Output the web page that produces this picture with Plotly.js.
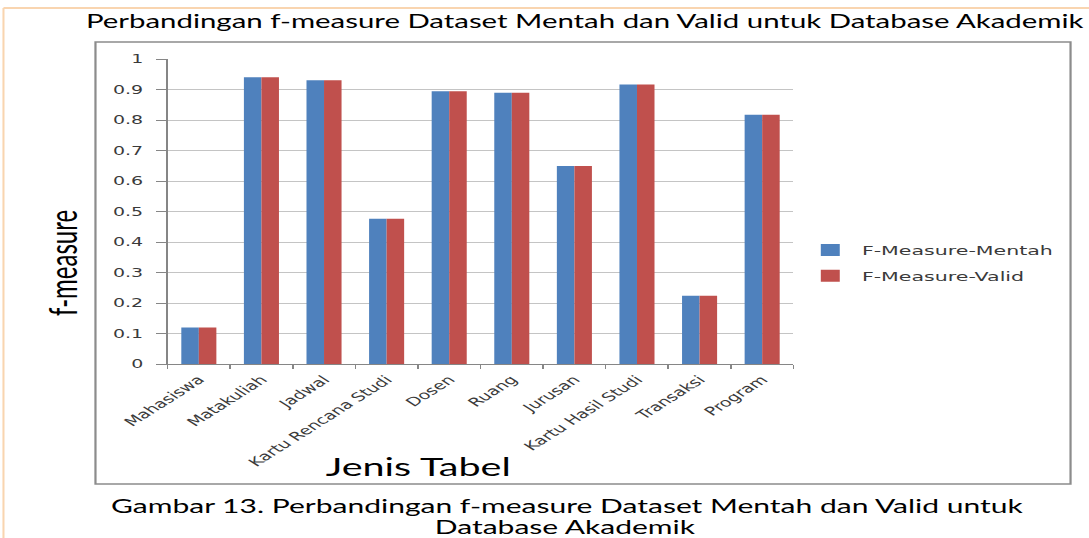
<!DOCTYPE html>
<html>
<head>
<meta charset="utf-8">
<script src="https://cdn.plot.ly/plotly-3.0.1.min.js"></script>
<style>
html,body{margin:0;padding:0;background:#fff;overflow:hidden;width:1089px;height:538px;}
#chart{width:689px;height:538px;transform:scaleX(1.5806);transform-origin:0 0;}
</style>
</head>
<body>
<div id="chart"></div>
<script>
const categories = ["Mahasiswa","Matakuliah","Jadwal","Kartu Rencana Studi","Dosen","Ruang","Jurusan","Kartu Hasil Studi","Transaksi","Program"];
const mentah = [0.12, 0.94, 0.93, 0.476, 0.894, 0.889, 0.649, 0.916, 0.224, 0.817];
const valid  = [0.12, 0.94, 0.93, 0.476, 0.894, 0.889, 0.649, 0.916, 0.224, 0.817];
const seriesNames = ["F-Measure-Mentah", "F-Measure-Valid"];
const yTicks = [0,0.1,0.2,0.3,0.4,0.5,0.6,0.7,0.8,0.9,1];
const yTickText = ["0","0.1","0.2","0.3","0.4","0.5","0.6","0.7","0.8","0.9","1"];
const chartTitle = "Perbandingan f-measure Dataset Mentah dan Valid untuk Database Akademik";
const xTitle = "Jenis Tabel";
const yTitle = "f-measure";
const caption1 = "Gambar 13. Perbandingan f-measure Dataset Mentah dan Valid untuk";
const caption2 = "Database Akademik";

// The whole chart is drawn in an unstretched space and then stretched horizontally (like the reference image).
const W = 689, H = 538;
const L = 105.7, R = 501.7, T = 59, B = 364;   // plot area in px (unstretched)
const pw = R - L, ph = B - T;
const px = x => (x - L) / pw;        // px -> paper x
const py = y => (B - y) / ph;        // px -> paper y

const tickFont = {family: "'DejaVu Sans', Verdana, sans-serif", size: 12, color: "#3a3a3a"};
const calibri = "Lato, 'Open Sans', sans-serif";

const traces = [
  {type: "bar", name: seriesNames[0], x: categories, y: mentah, marker: {color: "#4F81BD"}, legendgroup: "a"},
  {type: "bar", name: seriesNames[1], x: categories, y: valid, marker: {color: "#C0504D"}, legendgroup: "b"}
];

const layout = {
  width: W, height: H,
  paper_bgcolor: "#ffffff", plot_bgcolor: "#ffffff",
  margin: {l: L, r: W - R, t: T, b: H - B, autoexpand: false},
  barmode: "group", bargap: 0.44, bargroupgap: 0,
  showlegend: true,
  legend: {x: px(505), y: py(263), xanchor: "left", yanchor: "middle", traceorder: "grouped", tracegroupgap: 6,
           font: {family: "'DejaVu Sans', Verdana, sans-serif", size: 13, color: "#3a3a3a"}, itemwidth: 30, bgcolor: "rgba(0,0,0,0)"},
  title: {text: chartTitle, x: 54.4 / W, xanchor: "left", xref: "container", y: 1 - 21 / H, yanchor: "middle", yref: "container",
          font: {family: calibri, size: 18.6, color: "#000"}},
  xaxis: {
    type: "category", tickangle: -45, tickfont: tickFont,
    showline: true, linecolor: "#868686", linewidth: 1,
    ticks: "outside", tickson: "boundaries", ticklen: 4, tickcolor: "#868686",
    ticklabelstandoff: 3,
    showgrid: false, automargin: false
  },
  yaxis: {
    range: [0, 1], tickvals: yTicks, ticktext: yTickText, tickfont: tickFont,
    showline: true, linecolor: "#868686", linewidth: 1,
    ticks: "outside", ticklen: 6, tickcolor: "#868686",
    ticklabelstandoff: 6,
    showgrid: true, gridcolor: "#C4C4C4", gridwidth: 1, zeroline: false, automargin: false
  },
  shapes: [
    {type: "rect", xref: "paper", yref: "paper", x0: px(60.1), x1: px(677), y0: py(484), y1: py(42), line: {color: "#8C8C8C", width: 1.4}, fillcolor: "rgba(0,0,0,0)"},
    {type: "line", xref: "paper", yref: "paper", x0: px(1.9), x1: px(W), y0: py(8), y1: py(8), line: {color: "#F9D5B0", width: 2}},
    {type: "line", xref: "paper", yref: "paper", x0: px(1.9), x1: px(1.9), y0: py(8), y1: py(H), line: {color: "#F9D5B0", width: 1.3}}
  ],
  annotations: [
    {xref: "paper", yref: "paper", x: px(38.6), y: py(263), xanchor: "center", yanchor: "middle", textangle: -90, showarrow: false, text: yTitle, font: {family: calibri, size: 24, color: "#000"}},
    {xref: "paper", yref: "paper", x: px(264.5), y: py(466), xanchor: "center", yanchor: "middle", showarrow: false, text: xTitle, font: {family: calibri, size: 25, color: "#000"}},
    {xref: "paper", yref: "paper", x: px(358.4), y: py(505), xanchor: "center", yanchor: "middle", showarrow: false, text: caption1, font: {family: calibri, size: 19, color: "#000"}},
    {xref: "paper", yref: "paper", x: px(357.5), y: py(526), xanchor: "center", yanchor: "middle", showarrow: false, text: caption2, font: {family: calibri, size: 19, color: "#000"}}
  ]
};

Plotly.newPlot("chart", traces, layout, {displayModeBar: false, staticPlot: true});
</script>
</body>
</html>
